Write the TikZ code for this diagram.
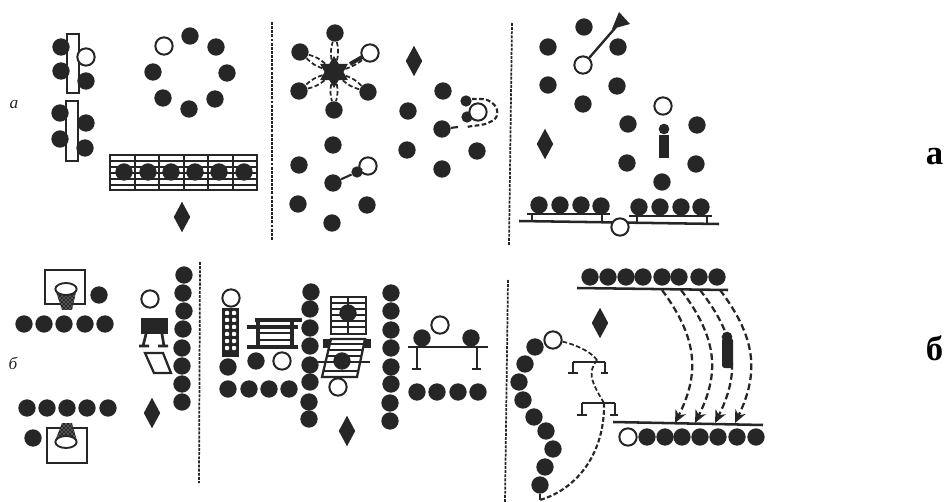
\documentclass[tikz,border=0pt]{standalone}
\usepackage{fontspec}
\setmainfont{Liberation Serif}
\usepackage{tikz}
\usetikzlibrary{arrows.meta,patterns,shapes.geometric}
\definecolor{ink}{RGB}{38,38,38}

\begin{document}
\begin{tikzpicture}[
      x=0.75pt, y=-0.75pt,
      plr/.style={circle, fill=ink, inner sep=0pt, minimum size=13pt},
      plrs/.style={plr, minimum size=8.5pt},
      coach/.style={circle, draw=ink, fill=white, line width=1.5pt,
                    inner sep=0pt, minimum size=13pt},
      judge/.style={diamond, fill=ink, inner sep=0pt, aspect=0.55,
                    minimum width=12.5pt, minimum height=23pt},
      sep/.style={ink, line width=1.3pt, dash pattern=on 2.2pt off 0.9pt},
      bar/.style={ink, line width=1.6pt},
      slat/.style={ink, line width=2.1pt},
      frm/.style={draw=ink, line width=1.7pt},
      link/.style={ink, line width=1.3pt, dash pattern=on 3.5pt off 1.8pt},
      run/.style={ink, line width=1.7pt, dash pattern=on 5pt off 2.6pt},
      runa/.style={run, -{Stealth[length=9.5pt, width=8.5pt]}},
      lbl/.style={font=\fontsize{13}{15}\selectfont\itshape, text=ink},
      tag/.style={font=\fontsize{26}{28}\selectfont\bfseries},
    ]
    % ── Row a: tables and circle ────────────────────────────
    \useasboundingbox (0,0) rectangle (946,502);
    \node[lbl] (la) at (14,105) {а};
    \node[tag] (ta) at (934.5,157) {а};
    \node[tag] (tb) at (934.5,348) {б};
    \node[lbl] (lb) at (13,363) {б};

    \draw[frm, fill=white] (67,34) rectangle (79,93);
    \draw[frm, fill=white] (66,101) rectangle (78,161);
    \foreach \px/\py [count=\i] in {61/47,61/71,86/81,60/113,60/139,86/123,85/148}
      \node[plr] (tbl\i) at (\px,\py) {};
    \node[coach] (ctbl) at (86,57) {};

    \foreach \px/\py [count=\i] in {190/36,216/47,227/73,215/99,189/109,163/98,153/72}
      \node[plr] (rng\i) at (\px,\py) {};
    \node[coach] (crng) at (164,46) {};

    \draw[frm, fill=white] (110,155) rectangle (257,190);
    \foreach \py in {161,167,173,179,185}
      \draw[slat, line width=1.8pt] (110,\py) -- (257,\py);
    \foreach \px in {135,159,184,208,233}
      \draw[frm] (\px,155) -- (\px,190);
    \foreach \px [count=\i] in {124,148,171,195,219,244}
      \node[plr] (mat\i) at (\px,172) {};
    \node[judge] (ja) at (182,217) {};
    \draw[sep] (272,22) -- (272,240);

    % ── Row a: star and passes ──────────────────────────────
    \node[star, star points=6, star point ratio=1.7, fill=ink, inner sep=0pt,
          minimum size=24pt] (hub) at (334,72) {};
    \foreach \px/\py [count=\i] in {335/33,300/52,299/91,368/92,334/110} {
      \node[plr] (st\i) at (\px,\py) {};
      \draw[link] (hub) to[bend left=13] (st\i);
      \draw[link] (hub) to[bend right=13] (st\i);
    }
    \draw[link] (hub) to[bend right=13] (370,53);
    \draw[ink, line width=3pt] (350,64) -- (364,56);
    \node[coach] (cst) at (370,53) {};

    \foreach \px/\py [count=\i] in {333/145,299/165,333/183,298/204,367/205,332/223}
      \node[plr] (pa\i) at (\px,\py) {};
    \node[plrs] (pas) at (357,172) {};
    \node[coach] (cpa) at (368,166) {};
    \draw[bar] (pa3) -- (pas) -- (cpa);

    \node[judge] (jb) at (414,61) {};
    \foreach \px/\py [count=\i] in {443/91,408/111,442/129,407/150,442/169,477/151}
      \node[plr] (pb\i) at (\px,\py) {};
    \node[plrs] (pbs1) at (466,101) {};
    \node[plrs] (pbs2) at (467,117) {};
    \node[coach] (cpb) at (478,112) {};
    \coordinate (pbe) at (458,127);
    \draw[bar] (pb3) -- (pbe);
    \draw[link, line width=1.6pt] (472,99) -- (482,99) .. controls (498,100) and (503,118) .. (490,122)
      .. controls (483,126) and (475,125) .. (467,127);
    \draw[sep] (512,23) -- (509,245);

    % ── Row a: whistle group and benches ────────────────────
    \foreach \px/\py [count=\i] in {584/27,548/47,618/47,548/85,617/86,583/104}
      \node[plr] (wh\i) at (\px,\py) {};
    \node[coach] (cwh) at (583,65) {};
    \coordinate (horn) at (616,27);
    \draw[bar, line width=1.8pt] (cwh) -- (horn);
    \fill[ink] (619,12) -- (630,24) -- (612,29) -- cycle;

    \foreach \px/\py [count=\i] in {628/124,697/125,627/163,696/164,662/182}
      \node[plr] (fg\i) at (\px,\py) {};
    \node[coach] (cfg) at (663,106) {};
    \node[circle, fill=ink, inner sep=0pt, minimum size=8pt] (fgh) at (664,129) {};
    \fill[ink] (659,158) rectangle (669,135);
    \node[judge] (jc) at (545,144) {};

    \foreach \px/\py [count=\i] in {539/205,560/205,581/205,601/206,639/207,660/207,681/207,701/207}
      \node[plr] (bn\i) at (\px,\py) {};
    \draw[bar] (527,214) -- (610,214);
    \draw[bar] (629,216) -- (712,216);
    \draw[bar, line width=1.9pt] (519,221) -- (719,224);
    \foreach \px in {532,602}
      \draw[bar] (\px,214) -- (\px,221);
    \foreach \px in {637,707}
      \draw[bar] (\px,216) -- (\px,223);
    \node[coach] (cbn) at (620,227) {};

    % ── Row b: basket, board, column ────────────────────────
    \draw[frm] (45,270) rectangle (85,304);
    \fill[ink] (56,292) -- (76,292) -- (72,310) -- (62,310) -- cycle;
    \fill[pattern=crosshatch dots, pattern color=white]
      (56,292) -- (76,292) -- (72,310) -- (62,310) -- cycle;
    \node[ellipse, draw=ink, fill=white, line width=1.4pt, inner sep=0pt,
          minimum width=16pt, minimum height=9pt] (hpa) at (66,289) {};
    \node[plr] (ba) at (99,295) {};
    \foreach \px [count=\i] in {24,44,64,85,105}
      \node[plr] (rwa\i) at (\px,324) {};

    \draw[frm] (47,428) rectangle (87,463);
    \fill[ink] (62,423) -- (72,423) -- (77,441) -- (55,441) -- cycle;
    \fill[pattern=crosshatch dots, pattern color=white]
      (62,423) -- (72,423) -- (77,441) -- (55,441) -- cycle;
    \node[ellipse, draw=ink, fill=white, line width=1.4pt, inner sep=0pt,
          minimum width=16pt, minimum height=9pt] (hpb) at (66,442) {};
    \node[plr] (bb) at (33,438) {};
    \foreach \px [count=\i] in {27,47,67,87,108}
      \node[plr] (rwb\i) at (\px,408) {};

    \node[coach] (cbd) at (150,299) {};
    \fill[ink] (141,318) rectangle (168,334);
    \draw[bar, line width=2pt] (146,334) -- (143,346) (139,346) -- (149,346)
      (162,334) -- (164,346) (158,346) -- (168,346);
    \draw[frm] (145,353) -- (163,353) -- (171,373) -- (154,373) -- cycle;
    \foreach \px/\py [count=\i] in {184/275,183/293,184/311,183/329,182/348,182/366,182/384,182/402}
      \node[plr] (cla\i) at (\px,\py) {};
    \node[judge] (jd) at (152,413) {};
    \draw[sep] (200,262) -- (199,483);

    % ── Row b: mats, bars, bench ────────────────────────────
    \node[coach] (cpl) at (231,298) {};
    \fill[ink] (222,308) rectangle (239,357);
    \foreach \py in {313,320,327,334,341,348}
      \foreach \px in {227,234}
        \fill[white, rounded corners=0.6pt] (\px-2,\py-2) rectangle (\px+2,\py+2);
    \foreach \px/\py [count=\i] in {228/367,228/389,249/389,269/389,289/389,256/361}
      \node[plr] (pl\i) at (\px,\py) {};
    \node[coach] (cpr) at (282,361) {};

    \foreach \py in {327,347}
      \draw[bar, line width=2.8pt] (247,\py) -- (298,\py);
    \draw[bar, line width=2.8pt] (255,320) -- (302,320);
    \foreach \py in {333,340}
      \draw[bar, line width=2pt] (258,\py) -- (292,\py);
    \foreach \px in {258,292}
      \draw[bar, line width=3pt] (\px,320) -- (\px,347);

    \foreach \px/\py [count=\i] in {311/292,310/309,310/328,310/346,310/365,310/382,309/402,309/419}
      \node[plr] (clb\i) at (\px,\py) {};

    \draw[frm, fill=white] (331,297) rectangle (366,334);
    \foreach \py in {303,309,315,321,327}
      \draw[slat, line width=1.8pt] (331,\py) -- (366,\py);
    \draw[frm] (348,297) -- (348,334);
    \node[plr] (mta) at (348,313) {};

    \fill[ink] (323,339) rectangle (371,348);
    \draw[frm, fill=white] (331,339) -- (365,339) -- (357,377) -- (322,377) -- cycle;
    \foreach \py/\xa/\xb in {344/330/364,350/328/363,356/327/361,362/325/360,371/323/358}
      \draw[slat, line width=1.8pt] (\xa,\py) -- (\xb,\py);
    \draw[bar] (318,362) -- (370,362);
    \node[plr] (mtb) at (342,361) {};
    \node[coach] (cmt) at (338,387) {};
    \node[judge] (je) at (347,431) {};

    \foreach \px/\py [count=\i] in {391/293,391/311,391/330,391/348,391/367,391/384,390/403,390/421}
      \node[plr] (clc\i) at (\px,\py) {};

    \draw[bar, line width=1.9pt] (408,347) -- (488,347);
    \draw[bar, line width=2pt] (417,347) -- (417,369) (412,369) -- (421,369)
      (477,347) -- (477,369) (472,369) -- (481,369);
    \node[plr] (bh1) at (422,338) {};
    \node[plr] (bh2) at (471,338) {};
    \node[coach] (cbh) at (440,325) {};
    \foreach \px [count=\i] in {417,437,458,478}
      \node[plr] (rwc\i) at (\px,392) {};
    \draw[sep] (508,280) -- (505,502);

    % ── Row b: arc of players and long passes ───────────────
    \foreach \px [count=\i] in {590,608,626,643,662,679,699,717}
      \node[plr] (tp\i) at (\px,277) {};
    \draw[bar, line width=1.9pt] (577,288) -- (728,290);
    \draw[bar, line width=1.9pt] (613,422) -- (763,425);
    \node[coach] (cbt) at (628,437) {};
    \foreach \px [count=\i] in {647,665,682,700,718,737,756}
      \node[plr] (bt\i) at (\px,437) {};

    \foreach \px/\xe/\xm [count=\i] in {662/675/699,681/695/719,700/715/739,720/735/758} {
      \coordinate (rs\i) at (\px,290);
      \coordinate (re\i) at (\xe,423);
      \draw[runa] (rs\i) .. controls (\xm,340) and (\xm,375) .. (re\i);
    }
    \node[circle, fill=ink, inner sep=0pt, minimum size=8pt] (rnh) at (727,337) {};
    \fill[ink, rounded corners=2pt] (722,338) rectangle (733,368);

    \node[judge] (jf) at (600,323) {};
    \node[coach] (car) at (553,340) {};
    \foreach \px/\py [count=\i] in {535/347,525/364,519/382,523/400,534/417,546/431,553/449,545/467,540/485}
      \node[plr] (ar\i) at (\px,\py) {};

    \draw[bar] (573,362) -- (605,362) (573,362) -- (573,373) (568,373) -- (578,373)
      (605,362) -- (605,373) (601,373) -- (608,373);
    \draw[bar] (582,403) -- (615,403) (582,403) -- (582,415) (577,415) -- (587,415)
      (615,403) -- (615,415) (610,415) -- (618,415);

    \coordinate (pm1) at (597,360);
    \coordinate (pm2) at (604,403);
    \coordinate (pm3) at (540,500);
    \draw[link] (car) .. controls (570,343) and (590,350) .. (pm1);
    \draw[link] (pm1) .. controls (588,372) and (590,380) .. (pm2);
    \draw[link, line width=1.6pt] (pm2) .. controls (605,450) and (580,488) .. (pm3);
    \draw[bar] (ar9) -- (pm3);
\end{tikzpicture}
\end{document}
